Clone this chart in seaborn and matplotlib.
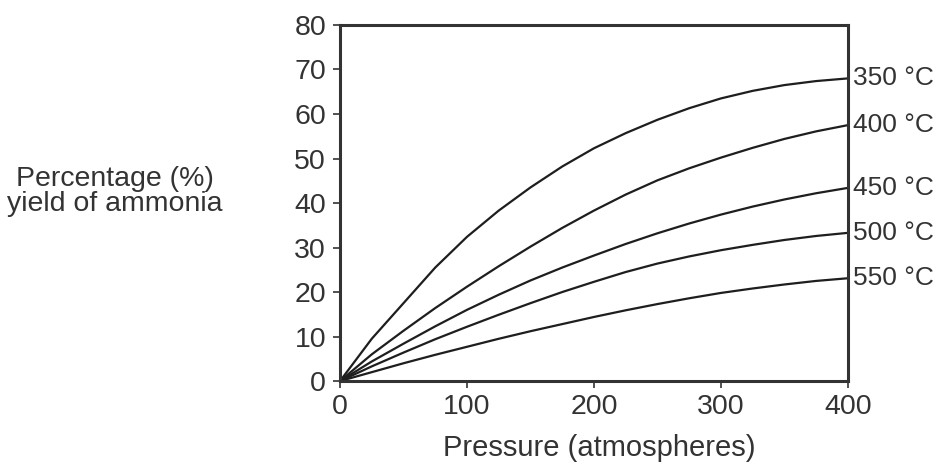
import matplotlib
matplotlib.use("Agg")
import matplotlib.pyplot as plt
import pandas as pd
import seaborn as sns

# values
pressure = [0, 25, 50, 75, 100, 125, 150, 175, 200, 225, 250, 275, 300, 325, 350, 375, 400]
temps = ["350 °C", "400 °C", "450 °C", "500 °C", "550 °C"]
yield_350 = [0, 9.5, 17.5, 25.5, 32.4, 38.3, 43.5, 48.2, 52.3, 55.7, 58.7, 61.3, 63.5, 65.2, 66.5, 67.4, 68.0]
yield_400 = [0, 6.0, 11.3, 16.4, 21.2, 25.8, 30.2, 34.4, 38.3, 41.9, 45.1, 47.8, 50.2, 52.4, 54.4, 56.1, 57.5]
yield_450 = [0, 4.4, 8.4, 12.3, 16.0, 19.4, 22.6, 25.5, 28.2, 30.8, 33.2, 35.4, 37.4, 39.2, 40.8, 42.2, 43.4]
yield_500 = [0, 3.3, 6.4, 9.4, 12.2, 14.9, 17.5, 20.0, 22.3, 24.5, 26.4, 28.0, 29.4, 30.6, 31.7, 32.6, 33.3]
yield_550 = [0, 2.0, 4.0, 5.9, 7.7, 9.5, 11.2, 12.8, 14.4, 15.9, 17.3, 18.6, 19.8, 20.8, 21.7, 22.5, 23.1]
x_ticks = [0, 100, 200, 300, 400]
y_ticks = [0, 10, 20, 30, 40, 50, 60, 70, 80]

series = [yield_350, yield_400, yield_450, yield_500, yield_550]
df = pd.DataFrame({
    "Pressure": pressure * len(temps),
    "Yield": [v for s in series for v in s],
    "Temp": [t for t in temps for _ in pressure],
})

sns.set_theme(style="ticks")
plt.rcParams["font.family"] = ["Liberation Sans", "DejaVu Sans"]

txt = "#333333"
fig = plt.figure(figsize=(9.4, 4.67), dpi=100)
ax = fig.add_axes([0.3617, 0.184, 0.5403, 0.7625])

sns.lineplot(data=df, x="Pressure", y="Yield", hue="Temp",
             palette=["#1e1e1e"] * len(temps), linewidth=1.6,
             legend=False, ax=ax)

ax.set_xlim(0, 400)
ax.set_ylim(0, 80)
ax.set_xticks(x_ticks)
ax.set_yticks(y_ticks)
ax.set_xlabel("")
ax.set_ylabel("")
ax.tick_params(axis="both", labelsize=20.5, colors=txt, length=5, width=1.2,
               pad=5, direction="out")
ax.tick_params(axis="x", pad=4)

for spine in ax.spines.values():
    spine.set_visible(True)
    spine.set_linewidth(2.2)
    spine.set_edgecolor("#333333")

# temperature labels at the end of each curve
for t, s in zip(temps, series):
    ax.annotate(t, (400, s[-1]), xytext=(4, 0), textcoords="offset points",
                fontsize=19, color=txt, va="center", ha="left",
                annotation_clip=False)

fig.text(0.122, 0.589, "Percentage (%)\nyield of ammonia", fontsize=20.5,
         color=txt, ha="center", va="center", linespacing=0.95)
fig.text(0.638, 0.041, "Pressure (atmospheres)", fontsize=21,
         color=txt, ha="center", va="center")

fig.savefig("out.png", dpi=100, facecolor="white")
